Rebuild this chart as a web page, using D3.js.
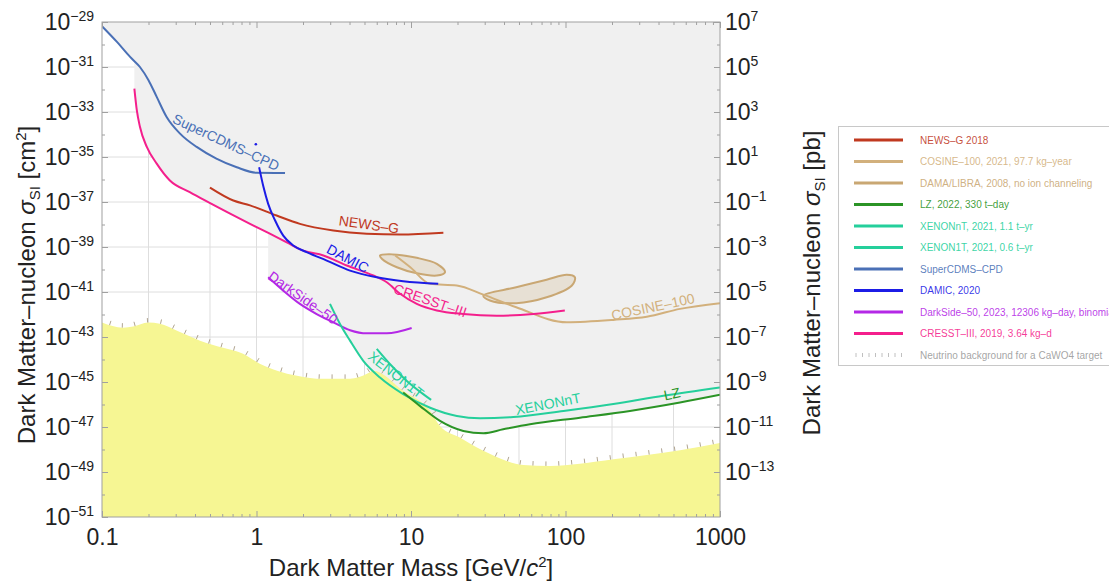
<!DOCTYPE html>
<html>
<head>
<meta charset="utf-8">
<script src="https://cdn.jsdelivr.net/npm/d3@7"></script>
<style>
  body { margin: 0; background: #fff; }
  svg { display: block; font-family: "Liberation Sans", Arial, sans-serif; }
</style>
</head>
<body>
<svg id="chart" width="1109" height="583"></svg>
<script>
// exclusion limits, [mass GeV, sigma cm^2]
var superCdms = [[0.1,6.5e-30],[0.125,1.3e-30],[0.152,2.8e-31],[0.176,1.0e-31],[0.20,2.6e-32],[0.226,4.7e-33],[0.262,6.0e-34],[0.32,1.1e-34],[0.41,2.8e-35],[0.55,8.5e-36],[0.745,3.5e-36],[1.0,2.0e-36],[1.53,1.95e-36]];
var cresst = [[0.162,1.1e-32],[0.168,1.2e-33],[0.176,2.2e-34],[0.195,2.8e-35],[0.226,5.1e-36],[0.275,9.1e-37],[0.37,2.75e-37],[0.464,1.17e-37],[0.67,3.1e-38],[0.908,1.07e-38],[1.22,3.9e-39],[1.57,1.6e-39],[2.01,6.9e-40],[2.71,4.2e-40],[3.84,1.5e-40],[5.7,5.4e-41],[6.97,2.7e-41],[8.5,8.3e-42],[10.9,2.95e-42],[14.7,1.5e-42],[21.8,1.05e-42],[35.9,8.9e-43],[62,1.05e-42],[99,1.5e-42]];
var newsG = [[0.5,4.4e-37],[0.708,1.17e-37],[0.908,7.1e-38],[1.35,2.5e-38],[1.91,1.07e-38],[3.14,5.4e-39],[5.17,3.9e-39],[8.5,3.6e-39],[16.2,4.3e-39]];
var damic = [[1.04,3.5e-36],[1.11,4.6e-37],[1.19,8.3e-38],[1.32,1.5e-38],[1.49,3.2e-39],[1.73,1.17e-39],[2.11,5.9e-40],[2.85,2.5e-40],[4.03,8.9e-41],[6.0,4.5e-41],[8.9,3.0e-41],[15.0,2.3e-41]];
var damicDot = [[0.99,3.7e-35]];
var darkSide = [[1.19,4.5e-41],[1.49,1.15e-41],[1.91,2.95e-42],[2.45,1.05e-42],[3.14,4.5e-43],[4.03,2.0e-43],[5.17,1.45e-43],[6.97,1.45e-43],[10.1,2.5e-43]];
var xenonNT = [[2.99,2.95e-42],[3.47,3.8e-43],[4.03,6.9e-44],[4.91,8.7e-45],[6.3,1.58e-45],[8.9,2.9e-46],[13.3,7.2e-47],[19.8,3.1e-47],[28,2.45e-47],[46,2.8e-47],[97,5.2e-47],[204,1.05e-46],[430,2.45e-46],[1000,5.75e-46]];
var xenon1T = [[6.0,2.95e-44],[7.3,6.3e-45],[9.4,1.12e-45],[12.0,2.9e-46],[13.5,1.6e-46]];
var lz = [[8.9,3.4e-46],[11.4,8.7e-47],[15.4,1.86e-47],[21.8,6.7e-48],[29.4,5.3e-48],[39.5,7.9e-48],[58.9,1.32e-47],[124,2.6e-47],[261,5.2e-47],[551,1.23e-46],[1000,2.7e-46]];
var cosine = [[7.9,4.2e-40],[9.9,1.26e-40],[13.3,2.3e-41],[19.8,1.95e-41],[29.4,7.6e-42],[48,2.1e-42],[102,4.5e-43],[204,5.75e-43],[336,7.9e-43],[551,1.78e-42],[1000,3.2e-42]];
// DAMA/LIBRA allowed regions (closed contours)
var damaLow = [[6.3,4.2e-40],[7.6,4.7e-40],[10.9,3.3e-40],[14.7,1.78e-40],[16.6,7.6e-41],[14.7,5.4e-41],[10.9,6.8e-41],[8.1,1.26e-40],[6.5,2.95e-40]];
var damaHigh = [[29.4,6.9e-42],[48,1.62e-41],[75.5,3.5e-41],[102,5.8e-41],[115,4.5e-41],[110,1.95e-41],[75.5,5.8e-42],[48,3.2e-42],[32.4,4.2e-42]];
// neutrino background boundary (CaWO4)
var neutrinoFog = [[0.1,4.4e-43],[0.137,2.6e-43],[0.159,2.9e-43],[0.199,4.4e-43],[0.237,3.9e-43],[0.306,1.9e-43],[0.431,6.9e-44],[0.607,3.3e-44],[0.818,1.8e-44],[1.05,6.5e-45],[1.36,3.2e-45],[1.83,1.9e-45],[2.69,1.38e-45],[4.03,1.38e-45],[5.19,2.3e-45],[5.68,3.2e-45],[8.9,4.1e-46],[13.3,5.2e-47],[15.4,1.12e-47],[20.7,3.4e-48],[29.4,8.7e-49],[41.6,3.1e-49],[53.3,2.05e-49],[79.4,1.86e-49],[124,2.35e-49],[204,3.7e-49],[336,5.75e-49],[551,9.3e-49],[1000,1.95e-48]];

var xTickValues = [0.1, 1, 10, 100, 1000];
var xGridValues = [0.2,0.5,1,2,5,10,20,50,100,200,500];
var yTickExps = [-29,-31,-33,-35,-37,-39,-41,-43,-45,-47,-49,-51];
var pbTickExps = [7,5,3,1,-1,-3,-5,-7,-9,-11,-13];

var legendNames = ["NEWS–G 2018","COSINE–100, 2021, 97.7 kg–year","DAMA/LIBRA, 2008, no ion channeling","LZ, 2022, 330 t–day","XENONnT, 2021, 1.1 t–yr","XENON1T, 2021, 0.6 t–yr","SuperCDMS–CPD","DAMIC, 2020","DarkSide–50, 2023, 12306 kg–day, binomial","CRESST–III, 2019, 3.64 kg–d","Neutrino background for a CaWO4 target"];

var col = {
    newsG: "#c0391f",
    cosine: "#d2b07c",
    dama: "#c9a773",
    lz: "#2b9426",
    xenon: "#25cf9b",
    cdms: "#4a70b6",
    damic: "#1c1ce6",
    darkSide: "#b428e6",
    cresst: "#f41f8c",
    fog: "#9a9a9a"
};
var legendColors = [col.newsG, col.cosine, col.dama, col.lz, col.xenon, col.xenon, col.cdms, col.damic, col.darkSide, col.cresst, col.fog];

var pLeft = 102, pRight = 720, pTop = 22, pBottom = 517;

var svg = d3.select("#chart");
var x = d3.scaleLog().domain([0.1, 1000]).range([pLeft, pRight]);
var y = d3.scaleLog().domain([1e-51, 1e-29]).range([pBottom, pTop]);
var yPb = d3.scaleLog().domain([1e-15, 1e7]).range([pBottom, pTop]);

svg.append("defs").append("clipPath").attr("id", "clip")
    .append("rect").attr("x", pLeft).attr("y", pTop)
    .attr("width", pRight - pLeft).attr("height", pBottom - pTop);

var plot = svg.append("g").attr("clip-path", "url(#clip)");

// grid
plot.selectAll(".vgrid").data(xGridValues).enter().append("line")
    .attr("x1", d => x(d)).attr("x2", d => x(d))
    .attr("y1", pTop).attr("y2", pBottom)
    .attr("stroke", "#dedede").attr("stroke-width", 1);
plot.selectAll(".hgrid").data(yTickExps.slice(1, -1)).enter().append("line")
    .attr("x1", pLeft).attr("x2", pRight)
    .attr("y1", d => y(Math.pow(10, d))).attr("y2", d => y(Math.pow(10, d)))
    .attr("stroke", "#dedede").attr("stroke-width", 1);

// excluded region = everything above any limit
var limits = [superCdms, cresst, newsG, damic, darkSide, xenonNT, xenon1T, lz, cosine];
var area = d3.area().x(d => x(d[0])).y0(pTop - 5).y1(d => y(d[1])).curve(d3.curveMonotoneX);
limits.forEach(function(s) {
    plot.append("path").attr("d", area(s)).attr("fill", "#f0f0f0").attr("stroke", "none");
});

// neutrino fog
var fogArea = d3.area().x(d => x(d[0])).y0(pBottom + 5).y1(d => y(d[1])).curve(d3.curveMonotoneX);
plot.append("path").attr("d", fogArea(neutrinoFog)).attr("fill", "#f6f693");

var line = d3.line().x(d => x(d[0])).y(d => y(d[1])).curve(d3.curveMonotoneX);
var fogPath = plot.append("path").attr("d", line(neutrinoFog)).attr("fill", "none").attr("stroke", "none");
var node = fogPath.node(), len = node.getTotalLength();
for (var s = 8; s < len; s += 13) {
    var p0 = node.getPointAtLength(Math.max(0, s - 2)),
        p1 = node.getPointAtLength(Math.min(len, s + 2)),
        p = node.getPointAtLength(s);
    var dx = p1.x - p0.x, dy = p1.y - p0.y, n = Math.hypot(dx, dy) || 1;
    var nx = dy / n, ny = -dx / n;
    plot.append("line")
        .attr("x1", p.x).attr("y1", p.y)
        .attr("x2", p.x + nx * 4.5).attr("y2", p.y + ny * 4.5)
        .attr("stroke", "#b0a490").attr("stroke-width", 1);
}

// DAMA contours
var closedLine = d3.line().x(d => x(d[0])).y(d => y(d[1])).curve(d3.curveCatmullRomClosed.alpha(0.5));
[damaLow, damaHigh].forEach(function(s) {
    plot.append("path").attr("d", closedLine(s))
        .attr("fill", "rgba(201,167,115,0.22)")
        .attr("stroke", col.dama).attr("stroke-width", 2);
});

// limit lines
var series = [
    [cosine, col.cosine], [newsG, col.newsG], [superCdms, col.cdms], [cresst, col.cresst],
    [damic, col.damic], [darkSide, col.darkSide], [xenon1T, col.xenon], [xenonNT, col.xenon], [lz, col.lz]
];
series.forEach(function(s) {
    plot.append("path").attr("d", line(s[0]))
        .attr("fill", "none").attr("stroke", s[1]).attr("stroke-width", 2);
});
plot.selectAll(".dot").data(damicDot).enter().append("circle")
    .attr("cx", d => x(d[0])).attr("cy", d => y(d[1])).attr("r", 1.3).attr("fill", col.damic);

// curve labels
var labels = [
    ["SuperCDMS–CPD", 0.635, 4.5e-35, 25, col.cdms],
    ["NEWS–G", 5.35, 1e-38, 8, col.newsG],
    ["DAMIC", 3.9, 3.1e-40, 28, col.damic],
    ["CRESST–III", 13.3, 4.2e-42, 19, col.cresst],
    ["DarkSide–50", 2.0, 5.6e-42, 35, col.darkSide],
    ["XENON1T", 8.0, 2.1e-45, 38, col.xenon],
    ["XENONnT", 77, 1.07e-46, -11, col.xenon],
    ["LZ", 489, 2.95e-46, -12, col.lz],
    ["COSINE–100", 368, 2.2e-42, -12, col.cosine]
];
labels.forEach(function(l) {
    svg.append("text")
        .attr("transform", "translate(" + x(l[1]) + "," + y(l[2]) + ") rotate(" + l[3] + ")")
        .attr("text-anchor", "middle").attr("dy", "0.35em")
        .attr("font-size", 14).attr("fill", l[4])
        .text(l[0]);
});

// frame and ticks
svg.append("rect").attr("x", pLeft).attr("y", pTop)
    .attr("width", pRight - pLeft).attr("height", pBottom - pTop)
    .attr("fill", "none").attr("stroke", "#a0a0a0").attr("stroke-width", 1);

var xMinor = x.ticks().filter(d => xTickValues.indexOf(d) < 0);
var yMinorExps = d3.range(-50, -29, 2);

function frameTicks(g) {
    g.selectAll(".domain").remove();
    g.selectAll("line").attr("stroke", "#a0a0a0");
}
svg.append("g").attr("transform", "translate(0," + pBottom + ")")
    .call(d3.axisBottom(x).tickValues(xMinor).tickSize(-3).tickFormat("")).call(frameTicks);
svg.append("g").attr("transform", "translate(0," + pTop + ")")
    .call(d3.axisTop(x).tickValues(xMinor).tickSize(-3).tickFormat("")).call(frameTicks);
svg.append("g").attr("transform", "translate(0," + pTop + ")")
    .call(d3.axisTop(x).tickValues(xTickValues).tickSize(-6).tickFormat("")).call(frameTicks);

var xAxis = svg.append("g").attr("transform", "translate(0," + pBottom + ")")
    .call(d3.axisBottom(x).tickValues(xTickValues).tickSize(-6).tickPadding(12).tickFormat(d3.format("~g")))
    .call(frameTicks);
xAxis.selectAll("text").attr("font-size", 23).attr("fill", "#222")
    .attr("font-family", "'Liberation Sans', Arial, sans-serif");

var yMajor = yTickExps.map(e => Math.pow(10, e));
svg.append("g").attr("transform", "translate(" + pLeft + ",0)")
    .call(d3.axisLeft(y).tickValues(yMajor).tickSize(-6).tickFormat("")).call(frameTicks);
svg.append("g").attr("transform", "translate(" + pLeft + ",0)")
    .call(d3.axisLeft(y).tickValues(yMinorExps.map(e => Math.pow(10, e))).tickSize(-3).tickFormat("")).call(frameTicks);
svg.append("g").attr("transform", "translate(" + pRight + ",0)")
    .call(d3.axisRight(yPb).tickValues(pbTickExps.map(e => Math.pow(10, e))).tickSize(-6).tickFormat("")).call(frameTicks);
svg.append("g").attr("transform", "translate(" + pRight + ",0)")
    .call(d3.axisRight(y).tickValues(yMinorExps.map(e => Math.pow(10, e))).tickSize(-3).tickFormat("")).call(frameTicks);

function powLabel(sel, e) {
    sel.append("tspan").text("10");
    sel.append("tspan").attr("dy", -9).attr("font-size", 14).text(String(e).replace("-", "−"));
}
yTickExps.forEach(function(e) {
    var t = svg.append("text").attr("x", 94).attr("y", y(Math.pow(10, e)) + 8)
        .attr("text-anchor", "end").attr("font-size", 23).attr("fill", "#222");
    powLabel(t, e);
});
pbTickExps.forEach(function(e) {
    var t = svg.append("text").attr("x", 725).attr("y", yPb(Math.pow(10, e)) + 8)
        .attr("font-size", 23).attr("fill", "#222");
    powLabel(t, e);
});

// axis titles
svg.append("text").attr("x", (pLeft + pRight) / 2).attr("y", 576)
    .attr("text-anchor", "middle").attr("font-size", 24).attr("fill", "#222")
    .call(function(t) {
        t.append("tspan").text("Dark Matter Mass [GeV/");
        t.append("tspan").attr("font-style", "italic").text("c");
        t.append("tspan").attr("dy", -9).attr("font-size", 15).text("2");
        t.append("tspan").attr("dy", 9).text("]");
    });

function sigmaTitle(t, unit, sup) {
    t.append("tspan").text("Dark Matter–nucleon ");
    t.append("tspan").attr("font-style", "italic").text("σ");
    t.append("tspan").attr("dy", 5).attr("font-size", 15).text("SI");
    t.append("tspan").attr("dy", -5).text(" [" + unit);
    if (sup) {
        t.append("tspan").attr("dy", -9).attr("font-size", 15).text(sup);
        t.append("tspan").attr("dy", 9).text("]");
    } else {
        t.append("tspan").text("]");
    }
}
svg.append("text").attr("transform", "translate(35,285) rotate(-90)")
    .attr("text-anchor", "middle").attr("font-size", 24).attr("fill", "#222")
    .call(sigmaTitle, "cm", "2");
svg.append("text").attr("transform", "translate(820,283) rotate(-90)")
    .attr("text-anchor", "middle").attr("font-size", 24).attr("fill", "#222")
    .call(sigmaTitle, "pb", null);

// legend
var legend = svg.append("g").attr("transform", "translate(838,126)");
legend.append("rect").attr("x", 0.5).attr("y", 0.5).attr("width", 320).attr("height", 239)
    .attr("fill", "#fff").attr("stroke", "#c8c8c8");
legendNames.forEach(function(label, i) {
    var ly = 14 + i * 21.5;
    if (i < legendNames.length - 1) {
        legend.append("line").attr("x1", 16).attr("x2", 65).attr("y1", ly).attr("y2", ly)
            .attr("stroke", legendColors[i]).attr("stroke-width", 3);
    } else {
        d3.range(18, 66, 6.5).forEach(function(tx) {
            legend.append("line").attr("x1", tx).attr("x2", tx).attr("y1", ly - 2).attr("y2", ly + 2)
                .attr("stroke", "#c0c0c0").attr("stroke-width", 1);
        });
    }
    legend.append("text").attr("x", 82).attr("y", ly + 3.5)
        .attr("font-size", 10).attr("fill", legendColors[i]).attr("fill-opacity", 0.9)
        .text(label);
});
</script>
</body>
</html>
